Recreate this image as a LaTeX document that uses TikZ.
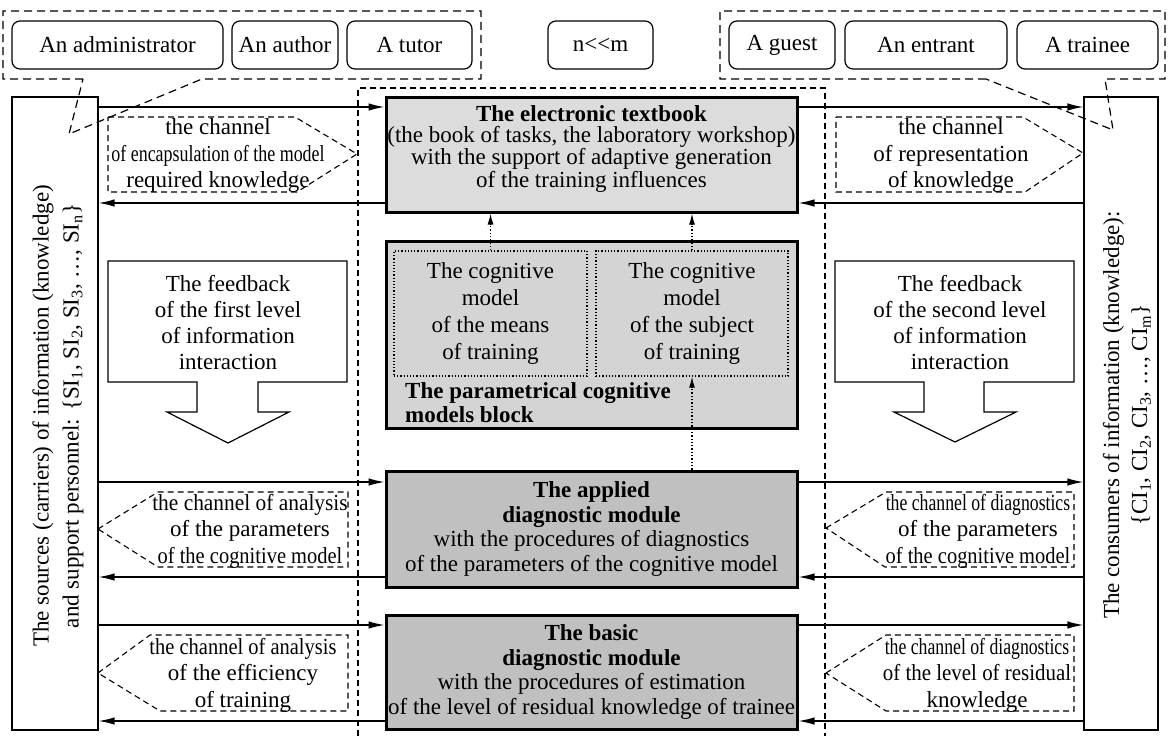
\documentclass[tikz,border=0pt]{standalone}
\usepackage{fontspec}
\setmainfont{Liberation Serif}
\usepackage{graphicx}
\usetikzlibrary{arrows.meta,calc}
\definecolor{etfill}{RGB}{220,220,220}
\definecolor{pfill}{RGB}{212,212,212}
\definecolor{dfill}{RGB}{192,192,192}
\newcommand{\cz}[2]{\scalebox{#1}[1]{#2}}
\begin{document}
\begin{tikzpicture}[x=1pt,y=-1pt,
  every node/.style={font=\fontsize{23}{26}\selectfont, inner sep=0pt},
  topbox/.style={draw, rounded corners=8pt, line width=1.2pt, minimum height=48pt},
  sidebox/.style={draw, line width=1.2pt, minimum height=633pt},
  mainbox/.style={draw, line width=3pt, align=center},
  innerbox/.style={draw, dotted, line width=1.2pt, align=center, font=\fontsize{23}{27}\selectfont},
  arr/.style={line width=1.3pt, -{Latex[length=16pt,width=7.5pt]}},
  dotarr/.style={line width=1.3pt, dotted, -{Latex[length=11pt,width=6pt]}},
  grpline/.style={line width=1.2pt, dash pattern=on 8pt off 5pt},
  midline/.style={line width=1.1pt, dash pattern=on 6pt off 4pt},
  callout/.style={line width=1.1pt, dash pattern=on 6pt off 4pt},
  calltext/.style={align=center, font=\fontsize{23}{26.5}\selectfont},
  fbshape/.style={draw, line width=1.2pt},
  fbtext/.style={align=center, font=\fontsize{23}{26}\selectfont}
]
\useasboundingbox (0,0) rectangle (1168,736);

% top boxes
\node[topbox, minimum width=211pt] (t1) at (117.5,45) {An administrator};
\node[topbox, minimum width=106pt] (t2) at (285,45) {An author};
\node[topbox, minimum width=125pt] (t3) at (409.5,45) {A tutor};
\node[topbox, minimum width=105pt] (t4) at (600.5,45) {n<{}<m};
\node[topbox, minimum width=106pt] (t5) at (782,45) {A guest};
\node[topbox, minimum width=162pt] (t6) at (926,45) {An entrant};
\node[topbox, minimum width=141pt] (t7) at (1087.5,45) {A trainee};

% group outlines with wedges
\draw[grpline] (83,79) -- (3,79) -- (3,11) -- (481,11) -- (481,79) -- (202,79) -- (69,134) -- cycle;
\draw[grpline] (986,79) -- (720,79) -- (720,11) -- (1165,11) -- (1165,79) -- (1105,79) -- (1113,130) -- cycle;

% middle dashed region
\draw[midline] (358,736) -- (358,88) -- (825,88) -- (825,736);

% side panels
\node[sidebox, minimum width=86pt] (L) at (55,413.5) {};
\node[rotate=90, align=center, font=\fontsize{23}{30}\selectfont] (Ltxt) at (58,416)
  {The sources (carriers) of information (knowledge)\\and support personnel: \{SI\textsubscript{1}, SI\textsubscript{2}, SI\textsubscript{3}, …, SI\textsubscript{n}\}};
\node[sidebox, minimum width=74pt] (R) at (1121,413.5) {};
\node[rotate=90, align=center, font=\fontsize{23}{28}\selectfont] (Rtxt) at (1127,415)
  {The consumers of information (knowledge):\\\{CI\textsubscript{1}, CI\textsubscript{2}, CI\textsubscript{3}, …, CI\textsubscript{m}\}};

% main boxes
\node[mainbox, fill=etfill, minimum width=411pt, minimum height=115pt] (E) at (591.5,154.5) {};
\node[align=center, font=\fontsize{23}{21}\selectfont] (Etxt) at (591.5,149)
  {\textbf{The electronic textbook}\\(the book of tasks, the laboratory workshop)\\with the support of adaptive generation\\of the training influences};
\node[mainbox, fill=pfill, minimum width=411pt, minimum height=187pt] (P) at (591.5,334.5) {};
\node[innerbox, minimum width=193pt, minimum height=125pt] (P1) at (490.5,313.5) {The cognitive\\model\\of the means\\of training};
\node[innerbox, minimum width=192pt, minimum height=125pt] (P2) at (692,313.5) {The cognitive\\model\\of the subject\\of training};
\node[align=left, anchor=west, font=\fontsize{23}{24}\selectfont\bfseries] (Ptxt) at (405,403) {The parametrical cognitive\\models block};
\node[mainbox, fill=dfill, minimum width=411pt, minimum height=116pt, font=\fontsize{23}{24.5}\selectfont] (A) at (591.5,529)
  {\textbf{The applied}\\\textbf{diagnostic module}\\with the procedures of diagnostics\\of the parameters of the cognitive model};
\node[mainbox, fill=dfill, minimum width=411pt, minimum height=114pt, font=\fontsize{23}{24.5}\selectfont] (B) at (591.5,672)
  {\textbf{The basic}\\\textbf{diagnostic module}\\with the procedures of estimation\\of the level of residual knowledge of trainee};

% dotted arrows
\draw[dotarr] (P1.north) -- (E.south -| P1.north);
\draw[dotarr] (P2.north) -- (E.south -| P2.north);
\draw[dotarr] (A.north -| P2.south) -- (P2.south);

% row levels
\coordinate (r1) at (0,107);
\coordinate (r2) at (0,203);
\coordinate (r3) at (0,482);
\coordinate (r4) at (0,577);
\coordinate (r5) at (0,625);
\coordinate (r6) at (0,721);

\draw[arr] (L.east |- r1) -- (E.west |- r1);
\draw[arr] (E.east |- r1) -- (R.west |- r1);
\draw[arr] (E.west |- r2) -- (L.east |- r2);
\draw[arr] (R.west |- r2) -- (E.east |- r2);
\draw[arr] (L.east |- r3) -- (A.west |- r3);
\draw[arr] (A.east |- r3) -- (R.west |- r3);
\draw[arr] (A.west |- r4) -- (L.east |- r4);
\draw[arr] (R.west |- r4) -- (A.east |- r4);
\draw[arr] (L.east |- r5) -- (B.west |- r5);
\draw[arr] (B.east |- r5) -- (R.west |- r5);
\draw[arr] (B.west |- r6) -- (L.east |- r6);
\draw[arr] (R.west |- r6) -- (B.east |- r6);

% callouts
\draw[callout] (108,117) -- (295,117) -- (357,154) -- (297,192) -- (108,192) -- cycle;
\node[calltext] (c1) at (218,156) {the channel\\\cz{0.78}{of encapsulation of the model}\\required knowledge};
\draw[callout] (836,117) -- (1023,117) -- (1083,153) -- (1025,192) -- (836,192) -- cycle;
\node[calltext] (c2) at (951,156) {the channel\\of representation\\of knowledge};
\draw[callout] (98,529) -- (158,492) -- (348,492) -- (348,567) -- (158,567) -- cycle;
\node[calltext] (c3) at (250,531) {\cz{0.93}{the channel of analysis}\\of the parameters\\\cz{0.89}{of the cognitive model}};
\draw[callout] (98,673) -- (150,635) -- (348,635) -- (348,711) -- (160,711) -- cycle;
\node[calltext] (c4) at (243,675) {\cz{0.89}{the channel of analysis}\\of the efficiency\\of training};
\draw[callout] (826,528) -- (886,492) -- (1074,492) -- (1074,567) -- (885,567) -- cycle;
\node[calltext] (c5) at (978,531) {\cz{0.77}{the channel of diagnostics}\\of the parameters\\\cz{0.89}{of the cognitive model}};
\draw[callout] (826,673) -- (886,635) -- (1074,635) -- (1074,711) -- (886,711) -- cycle;
\node[calltext] (c6) at (977,675) {\cz{0.77}{the channel of diagnostics}\\\cz{0.91}{of the level of residual}\\knowledge};

% feedback arrows
\draw[fbshape] (108,261) -- (347,261) -- (347,382) -- (258,382) -- (258,412) -- (289,412) -- (228,443) -- (167,412) -- (197,412) -- (197,382) -- (108,382) -- cycle;
\node[fbtext] (f1) at (228,323) {The feedback\\of the first level\\of information\\interaction};
\draw[fbshape] (835,261) -- (1074,261) -- (1074,382) -- (984,382) -- (984,412) -- (1016,412) -- (955,442) -- (894,412) -- (924,412) -- (924,382) -- (835,382) -- cycle;
\node[fbtext] (f2) at (960,323) {The feedback\\of the second level\\of information\\interaction};
\end{tikzpicture}
\end{document}
